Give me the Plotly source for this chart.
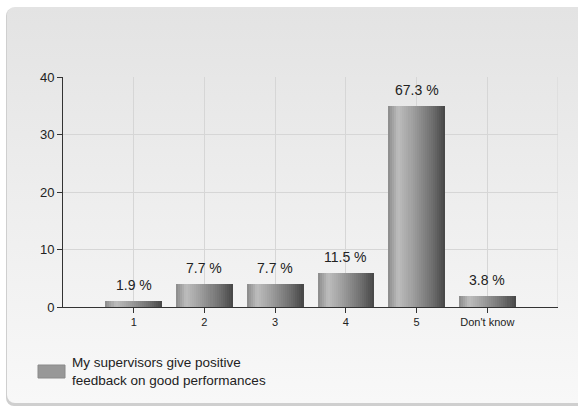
import base64
import plotly.graph_objects as go

categories = ["1", "2", "3", "4", "5", "Don't know"]
counts = [1, 4, 4, 6, 35, 2]
pct_labels = ["1.9 %", "7.7 %", "7.7 %", "11.5 %", "67.3 %", "3.8 %"]
series_name = "My supervisors give positive<br>feedback on good performances"
y_ticks = [0, 10, 20, 30, 40]

W, H = 578, 408
ML, MR, MT, MB = 63, 20, 77, 101
PW, PH = W - ML - MR, H - MT - MB

FONT = "Liberation Sans, Arial, sans-serif"

# gradient stops for the cylinder-like bars
stops = [(0.0, 0x8a), (0.18, 0xbd), (0.45, 0x9c), (0.8, 0x6a), (1.0, 0x46)]


def grad(t):
    for (t0, c0), (t1, c1) in zip(stops, stops[1:]):
        if t <= t1:
            f = (t - t0) / (t1 - t0)
            v = int(round(c0 + (c1 - c0) * f))
            return f"rgb({v},{v},{v})"
    v = stops[-1][1]
    return f"rgb({v},{v},{v})"


fig = go.Figure()
N = 28
bw = 0.8
for i in range(N):
    t = (i + 0.5) / N
    fig.add_trace(go.Bar(
        x=categories, y=counts,
        width=bw / N + 0.004, offset=-bw / 2 + i * bw / N,
        marker=dict(color=grad(t), line=dict(width=0)),
        showlegend=False, hoverinfo="skip" if i else "y",
    ))

annotations = []
for idx, (v, lab) in enumerate(zip(counts, pct_labels)):
    annotations.append(dict(x=idx, y=v, xref="x", yref="y", text=lab, showarrow=False,
                            yshift=16, font=dict(family=FONT, size=14, color="#222")))

# legend drawn manually
def px2x(p):
    return (p - ML) / PW


def py2y(p):
    return (H - MB - p) / PH


annotations.append(dict(x=px2x(70), y=py2y(371), xref="paper", yref="paper", text=series_name,
                        showarrow=False, xanchor="left", yanchor="middle", align="left",
                        font=dict(family=FONT, size=13.5, color="#222")))

shapes = [
    dict(type="rect", xref="paper", yref="paper", x0=px2x(38), x1=px2x(65), y0=py2y(378), y1=py2y(365),
         fillcolor="#989898", line=dict(color="#8a8a8a", width=1)),
    dict(type="line", xref="x", yref="y", x0=6, x1=6, y0=0, y1=40,
         line=dict(color="#d6d6d6", width=1), layer="below"),
]

svg = f'''<svg xmlns="http://www.w3.org/2000/svg" width="{W}" height="{H}" viewBox="0 0 {W} {H}">
<defs><linearGradient id="g" x1="0" y1="0" x2="0" y2="1">
<stop offset="0" stop-color="#e3e3e3"/><stop offset="0.5" stop-color="#eeeeee"/><stop offset="1" stop-color="#f8f8f8"/>
</linearGradient></defs>
<rect x="6" y="8" width="600" height="398" rx="8" ry="8" fill="#cfcfcf"/>
<rect x="7" y="7" width="600" height="396" rx="8" ry="8" fill="url(#g)"/>
</svg>'''
src = "data:image/svg+xml;base64," + base64.b64encode(svg.encode()).decode()

fig.update_layout(
    width=W, height=H,
    margin=dict(l=ML, r=MR, t=MT, b=MB, pad=0),
    paper_bgcolor="white", plot_bgcolor="rgba(0,0,0,0)",
    barmode="overlay", bargap=0,
    showlegend=False,
    annotations=annotations, shapes=shapes,
    images=[dict(source=src, xref="paper", yref="paper", x=-ML / PW, y=1 + MT / PH,
                 sizex=W / PW, sizey=H / PH, xanchor="left", yanchor="top",
                 sizing="stretch", layer="below")],
    font=dict(family=FONT, color="#222"),
    xaxis=dict(type="category", range=[-1, 6], showgrid=True, gridcolor="#d6d6d6", gridwidth=1,
               showline=True, linecolor="#333", linewidth=1, ticks="outside", ticklen=5,
               tickcolor="#333", tickfont=dict(family=FONT, size=11, color="#222"),
               zeroline=False, fixedrange=True),
    yaxis=dict(range=[0, 40], tickvals=y_ticks, showgrid=True, gridcolor="#d6d6d6", gridwidth=1,
               showline=True, linecolor="#333", linewidth=1, ticks="outside", ticklen=5,
               tickcolor="#333", tickfont=dict(family=FONT, size=13, color="#222"),
               zeroline=False, fixedrange=True),
)

fig.write_html("out.html")
